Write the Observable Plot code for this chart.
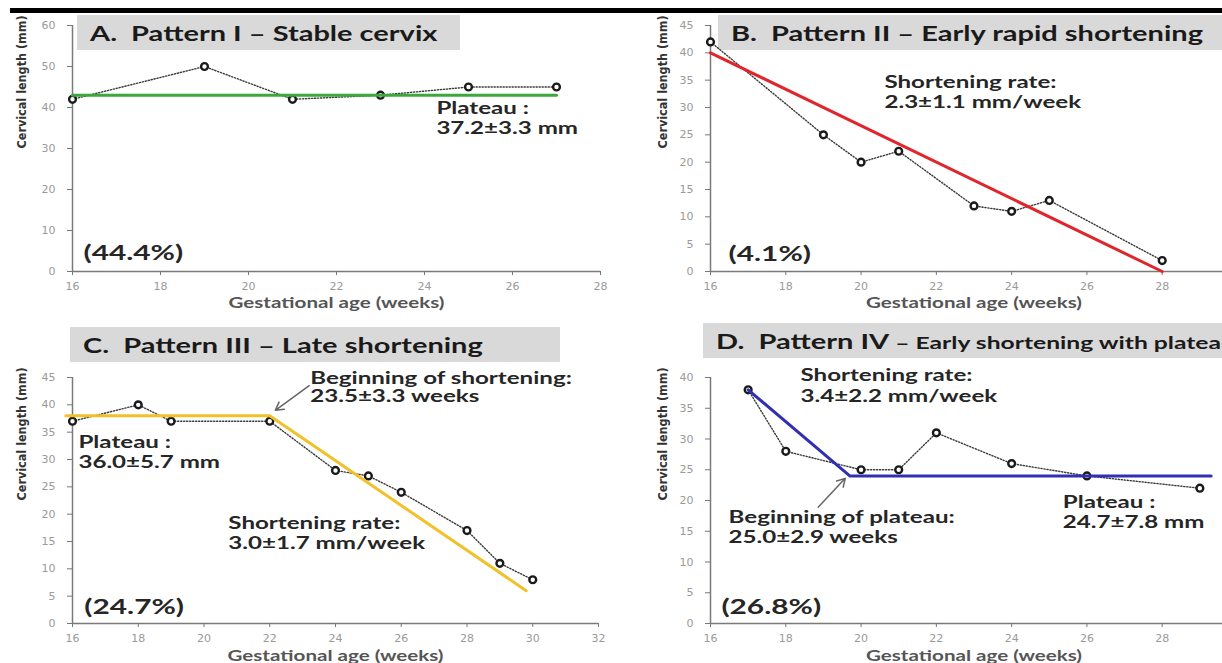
<!DOCTYPE html>
<html><head><meta charset="utf-8">
<script src="https://cdn.jsdelivr.net/npm/d3@7"></script>
<script src="https://cdn.jsdelivr.net/npm/@observablehq/plot@0.6"></script>
<style>
body{margin:0;background:#fff;font-family:Lato,sans-serif;}
#page{position:relative;width:1222px;height:663px;overflow:hidden;background:#fff;}
.panel{position:absolute;z-index:1;}
.panel svg{max-width:none !important;display:block;}
.title{position:absolute;background:#d9d9d9;color:#1a1a1a;font-weight:bold;font-size:20px;white-space:pre;overflow:hidden;display:flex;align-items:center;box-sizing:border-box;z-index:0;}
.title span.inner{display:inline-block;transform:scaleX(1.45);transform-origin:left center;}
.small{font-size:17px;}
#topbar{position:absolute;left:10px;top:8px;width:1212px;height:5px;background:#000;}
</style></head><body><div id="page"><div id="topbar"></div></div>
<script>
// ---- data ----
const weeksA = [16, 19, 21, 23, 25, 27];
const lengthA = [42, 50, 42, 43, 45, 45];
const fitWeeksA = [16, 27];
const fitLengthA = [43, 43];

const weeksB = [16, 19, 20, 21, 23, 24, 25, 28];
const lengthB = [42, 25, 20, 22, 12, 11, 13, 2];
const fitWeeksB = [16, 28];
const fitLengthB = [40, 0];

const weeksC = [16, 18, 19, 22, 24, 25, 26, 28, 29, 30];
const lengthC = [37, 40, 37, 37, 28, 27, 24, 17, 11, 8];
const fitWeeksC = [15.8, 22, 29.8];
const fitLengthC = [38, 38, 6];

const weeksD = [17, 18, 20, 21, 22, 24, 26, 29];
const lengthD = [38, 28, 25, 25, 31, 26, 24, 22];
const fitWeeksD = [17, 19.7, 29.3];
const fitLengthD = [38, 24, 24];

const xTicksA = [16, 18, 20, 22, 24, 26, 28];
const xTicksB = [16, 18, 20, 22, 24, 26, 28];
const xTicksC = [16, 18, 20, 22, 24, 26, 28, 30, 32];
const xTicksD = [16, 18, 20, 22, 24, 26, 28];

const titles = ["A.  Pattern I \u2013 Stable cervix", "B.  Pattern II \u2013 Early rapid shortening", "C.  Pattern III \u2013 Late shortening", "D.  Pattern IV "];
const titleDSub = "\u2013 Early shortening with plateau";
const shares = ["(44.4%)", "(4.1%)", "(24.7%)", "(26.8%)"];
const xLabel = "Gestational age (weeks)";
const yLabel = "Cervical length (mm)";

// ---- drawing ----
const page = document.getElementById("page");
const ANN = 17, ANNFILL = "#262626", STRETCH = 1.42;

function addTitle(text, left, top, width, height, sub) {
  const d = document.createElement("div");
  d.className = "title";
  Object.assign(d.style, {left: left + "px", top: top + "px", width: width + "px", height: height + "px", paddingLeft: "13px"});
  const inner = document.createElement("span");
  inner.className = "inner";
  inner.textContent = text;
  if (sub) { const s = document.createElement("span"); s.className = "small"; s.textContent = sub; inner.appendChild(s); }
  d.appendChild(inner);
  page.appendChild(d);
}

function panel(o) {
  const pts = o.weeks.map((w, i) => ({w, v: o.lengths[i]}));
  const fit = o.fitX.map((w, i) => ({w, v: o.fitY[i]}));
  const marks = [
    Plot.ruleY([o.yDomain[0]], {stroke: "#7a7a7a", strokeWidth: 1.5}),
    Plot.ruleX([o.xDomain[0]], {stroke: "#7a7a7a", strokeWidth: 1.5}),
    Plot.axisX({ticks: o.xTicks, tickSize: 4, tickPadding: 7, fontSize: 11, fontFamily: "DejaVu Sans", stroke: "#777", fill: "#9a9a9a", label: null}),
    Plot.axisY({ticks: d3.range(o.yDomain[0], o.yDomain[1] + 0.01, o.yStep), tickSize: 5, tickPadding: 12, fontSize: 11, fontFamily: "DejaVu Sans", stroke: "#777", fill: "#9a9a9a", label: null}),
    Plot.text([yLabel], {frameAnchor: "left", dx: o.yLabelDx, rotate: -90, fontSize: 12.5, fontWeight: "bold", fontFamily: "'DejaVu Sans Condensed', 'DejaVu Sans'", fill: "#333"}),
    Plot.text([xLabel], {frameAnchor: "bottom", dy: o.xLabelDy, lineAnchor: "middle", fontSize: 14.5, fontWeight: "bold", fill: "#555"}),
    Plot.line(pts, {x: "w", y: "v", stroke: "#3a3a3a", strokeWidth: 1.4, strokeDasharray: "1.2,1.8"}),
    Plot.dot(pts, {x: "w", y: "v", r: 3.4, stroke: "#1a1a1a", strokeWidth: 2.4, fill: "#fff"}),
    Plot.line(fit, {x: "w", y: "v", stroke: o.color, strokeWidth: 3}),
    Plot.text(o.texts, {x: "x", y: "y", text: "t", textAnchor: "start", fontSize: ANN, fontWeight: "bold", fill: ANNFILL}),
    Plot.text([o.share], {x: o.shareAt[0], y: o.shareAt[1], textAnchor: "start", fontSize: 21, fontWeight: "bold", fill: ANNFILL})
  ];
  if (o.arrow) marks.push(Plot.arrow([o.arrow], {x1: "x1", y1: "y1", x2: "x2", y2: "y2", stroke: "#666", strokeWidth: 1.5, headLength: 9}));
  const svg = Plot.plot({
    width: o.width, height: o.height,
    marginLeft: o.mL, marginRight: o.mR, marginTop: o.mT, marginBottom: o.mB,
    x: {domain: o.xDomain}, y: {domain: o.yDomain},
    style: {fontFamily: "Lato, sans-serif", background: "transparent", overflow: "visible", maxWidth: "none"},
    marks
  });
  // widen the annotation texts horizontally, like the (stretched) original figure
  svg.querySelectorAll('g[aria-label="text"] text').forEach(t => {
    const tr = t.getAttribute("transform");
    if (!tr || tr.includes("rotate")) return;
    t.setAttribute("transform", tr + ` scale(${STRETCH},1)`);
  });
  svg.style.maxWidth = "none";
  const wrap = document.createElement("div");
  wrap.className = "panel";
  wrap.style.left = o.left + "px"; wrap.style.top = o.top + "px";
  wrap.style.width = o.width + "px"; wrap.style.height = o.height + "px";
  wrap.appendChild(svg);
  page.appendChild(wrap);
}

addTitle(titles[0], 77, 15, 383, 35);
addTitle(titles[1], 718, 15, 520, 35);
addTitle(titles[2], 70, 327, 490, 35);
addTitle(titles[3], 703, 323, 520, 35, titleDSub);

panel({weeks: weeksA, lengths: lengthA, fitX: fitWeeksA, fitY: fitLengthA, color: "#3aa83a",
  xDomain: [16, 28], yDomain: [0, 60], yStep: 10, xTicks: xTicksA,
  left: 0, top: 0, width: 611, height: 310, mL: 72, mR: 11, mT: 25, mB: 39,
  yLabelDx: -51, xLabelDy: 32,
  texts: [{x: 24.27, y: 39.8, t: "Plateau :"}, {x: 24.27, y: 34.9, t: "37.2\u00b13.3 mm"}],
  share: shares[0], shareAt: [16.25, 4.4]});

panel({weeks: weeksB, lengths: lengthB, fitX: fitWeeksB, fitY: fitLengthB, color: "#e0262c",
  xDomain: [16, 30], yDomain: [0, 45], yStep: 5, xTicks: xTicksB,
  left: 611, top: 0, width: 640, height: 310, mL: 99, mR: 14, mT: 25, mB: 39,
  yLabelDx: -48, xLabelDy: 32,
  texts: [{x: 20.62, y: 34.6, t: "Shortening rate:"}, {x: 20.62, y: 30.9, t: "2.3\u00b11.1 mm/week"}],
  share: shares[1], shareAt: [16.48, 3.1]});

panel({weeks: weeksC, lengths: lengthC, fitX: fitWeeksC, fitY: fitLengthC, color: "#f2c12a",
  xDomain: [16, 32], yDomain: [0, 45], yStep: 5, xTicks: xTicksC,
  left: 0, top: 310, width: 611, height: 353, mL: 72, mR: 13, mT: 67, mB: 40,
  yLabelDx: -51, xLabelDy: 33,
  texts: [{x: 23.23, y: 44.8, t: "Beginning of shortening:"}, {x: 23.23, y: 41.5, t: "23.5\u00b13.3 weeks"},
          {x: 16.18, y: 33.1, t: "Plateau :"}, {x: 16.18, y: 29.4, t: "36.0\u00b15.7 mm"},
          {x: 20.74, y: 18.3, t: "Shortening rate:"}, {x: 20.74, y: 14.6, t: "3.0\u00b11.7 mm/week"}],
  arrow: {x1: 23.2, y1: 43.5, x2: 22.17, y2: 39.0},
  share: shares[2], shareAt: [16.36, 2.9]});

panel({weeks: weeksD, lengths: lengthD, fitX: fitWeeksD, fitY: fitLengthD, color: "#3030b0",
  xDomain: [16, 30], yDomain: [0, 40], yStep: 5, xTicks: xTicksD,
  left: 611, top: 310, width: 640, height: 353, mL: 99, mR: 14, mT: 67, mB: 40,
  yLabelDx: -48, xLabelDy: 33,
  texts: [{x: 18.39, y: 40.3, t: "Shortening rate:"}, {x: 18.39, y: 36.9, t: "3.4\u00b12.2 mm/week"},
          {x: 16.48, y: 17.2, t: "Beginning of plateau:"}, {x: 16.48, y: 14.0, t: "25.0\u00b12.9 weeks"},
          {x: 25.36, y: 19.7, t: "Plateau :"}, {x: 25.36, y: 16.4, t: "24.7\u00b17.8 mm"}],
  arrow: {x1: 18.86, y1: 18.9, x2: 19.58, y2: 23.6},
  share: shares[3], shareAt: [16.29, 2.6]});
</script></body></html>
